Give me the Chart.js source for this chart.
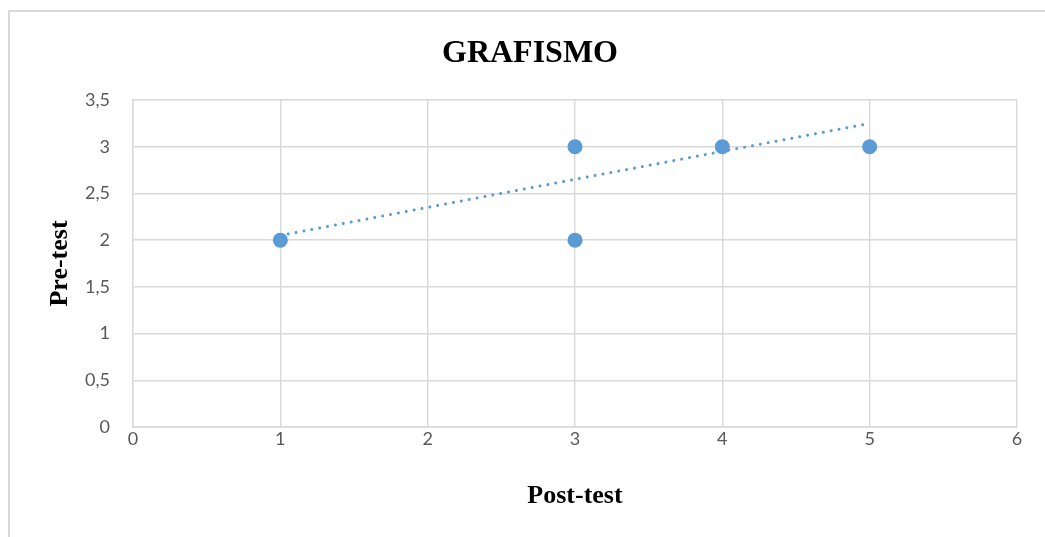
<!DOCTYPE html>
<html>
<head>
<meta charset="utf-8">
<script src="https://cdn.jsdelivr.net/npm/chart.js@4.4.1/dist/chart.umd.min.js"></script>
<style>
  html, body { margin: 0; padding: 0; background: #ffffff; }
  #wrap { position: relative; width: 1045px; height: 537px; overflow: hidden; }
  #frame { position: absolute; left: 8px; top: 10px; right: -4px; bottom: -4px;
           border-left: 2px solid #d9d9d9; border-top: 2px solid #d9d9d9; }
  canvas { position: absolute; left: 0; top: 0; }
</style>
</head>
<body>
<div id="wrap">
  <div id="frame"></div>
  <canvas id="c" width="1045" height="537"></canvas>
</div>
<script>
// Scores: post-test on the horizontal axis, pre-test on the vertical axis
const chartTitle = 'GRAFISMO';
const xTitle = 'Post-test';
const yTitle = 'Pre-test';
const postTest = [1, 3, 3, 4, 5];
const preTest  = [2, 3, 2, 3, 3];

// Linear trend line end points
const trendX = [1, 5];
const trendY = [2.05, 3.25];

const xMin = 0, xMax = 6, xStep = 1;
const yMin = 0, yMax = 3.5, yStep = 0.5;

const BLUE = '#5b9bd5';
const GRID = '#d9d9d9';
const TICK = '#595959';

const fmt = v => String(v).replace('.', ',');

const titlePlugin = {
  id: 'mainTitle',
  afterDraw(chart) {
    const ctx = chart.ctx;
    ctx.save();
    ctx.font = 'bold 32px "Liberation Serif", "Times New Roman", serif';
    ctx.fillStyle = '#000000';
    ctx.textAlign = 'center';
    ctx.textBaseline = 'alphabetic';
    ctx.fillText(chartTitle, 530, 62);
    ctx.restore();
  }
};

new Chart(document.getElementById('c'), {
  type: 'scatter',
  data: {
    datasets: [
      {
        label: 'Pre-test',
        data: postTest.map((x, i) => ({ x: x, y: preTest[i] })),
        backgroundColor: BLUE,
        borderColor: BLUE,
        pointRadius: 7.5,
        pointHoverRadius: 7.5,
        borderWidth: 0,
        order: 1
      },
      {
        label: 'Lineal',
        type: 'line',
        data: trendX.map((x, i) => ({ x: x, y: trendY[i] })),
        borderColor: BLUE,
        borderWidth: 3,
        borderDash: [0.01, 8],
        borderCapStyle: 'round',
        pointRadius: 0,
        fill: false,
        order: 2
      }
    ]
  },
  options: {
    responsive: false,
    animation: false,
    layout: { padding: { left: 0, right: 28, top: 100, bottom: 0 } },
    plugins: {
      legend: { display: false },
      tooltip: { enabled: false },
      title: { display: false }
    },
    scales: {
      x: {
        type: 'linear',
        min: xMin, max: xMax,
        ticks: {
          stepSize: xStep,
          color: TICK,
          padding: 1,
          font: { family: 'Lato', size: 18 },
          callback: v => fmt(v)
        },
        grid: { color: GRID, lineWidth: 1.4, drawTicks: false },
        border: { color: GRID, width: 1.4 },
        title: {
          display: true,
          text: xTitle,
          color: '#000000',
          font: { family: '"Liberation Serif", "Times New Roman", serif', size: 26, weight: 'bold' },
          padding: { top: 0, bottom: 25 }
        },
        afterFit(scale) { scale.height = 110; }
      },
      y: {
        type: 'linear',
        min: yMin, max: yMax,
        ticks: {
          stepSize: yStep,
          color: TICK,
          padding: 23,
          font: { family: 'Lato', size: 18 },
          callback: v => fmt(v)
        },
        grid: { color: GRID, lineWidth: 1.4, drawTicks: false },
        border: { color: GRID, width: 1.4 },
        title: {
          display: true,
          text: yTitle,
          color: '#000000',
          font: { family: '"Liberation Serif", "Times New Roman", serif', size: 26, weight: 'bold' },
          padding: { top: 45, bottom: 0 }
        },
        afterFit(scale) { scale.width = 133; }
      }
    }
  },
  plugins: [titlePlugin]
});
</script>
</body>
</html>
